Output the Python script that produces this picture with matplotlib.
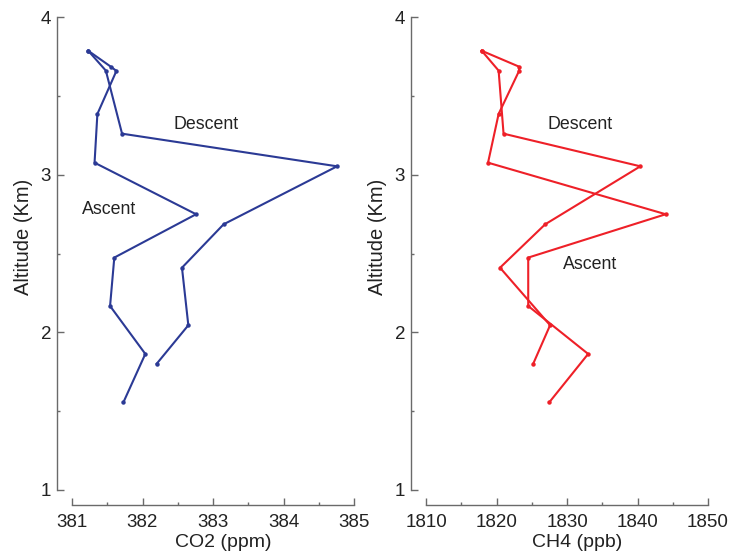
import matplotlib
matplotlib.use("Agg")
import matplotlib.pyplot as plt
from matplotlib.ticker import MultipleLocator

plt.rcParams["font.family"] = ["Liberation Sans", "DejaVu Sans"]

# flight profile, ascent listed bottom -> top, descent top -> bottom
asc_alt = [1.557, 1.863, 2.167, 2.474, 2.749, 3.076, 3.385, 3.658, 3.685, 3.786]
asc_co2 = [381.73, 382.04, 381.54, 381.60, 382.76, 381.32, 381.36, 381.63, 381.55, 381.23]
asc_ch4 = [1827.5, 1833.0, 1824.5, 1824.5, 1844.0, 1818.8, 1820.3, 1823.2, 1823.2, 1817.9]

desc_alt = [3.786, 3.660, 3.260, 3.053, 2.685, 2.410, 2.045, 1.800]
desc_co2 = [381.23, 381.48, 381.71, 384.76, 383.15, 382.56, 382.65, 382.20]
desc_ch4 = [1817.9, 1820.3, 1821.0, 1840.4, 1826.9, 1820.5, 1827.6, 1825.2]

co2_ticks = [381, 382, 383, 384, 385]
ch4_ticks = [1810, 1820, 1830, 1840, 1850]
alt_ticks = [1, 2, 3, 4]

BLUE = "#2b3a95"
RED = "#ee2028"
GREY = "#6a6a6a"
INK = "#222222"

fig = plt.figure(figsize=(7.39, 5.52), dpi=100)
ax1 = fig.add_axes([72 / 739, 62 / 552, 282 / 739, 473 / 552])
ax2 = fig.add_axes([426 / 739, 62 / 552, 282 / 739, 473 / 552])


def style(ax, xticks, xminor, xlabel):
    ax.set_xlim(xticks[0], xticks[-1])
    ax.set_ylim(alt_ticks[0], alt_ticks[-1])
    ax.set_xticks(xticks)
    ax.set_yticks(alt_ticks)
    ax.xaxis.set_minor_locator(MultipleLocator(xminor))
    ax.yaxis.set_minor_locator(MultipleLocator(0.5))
    for s in ("top", "right"):
        ax.spines[s].set_visible(False)
    for s in ("left", "bottom"):
        ax.spines[s].set_position(("outward", 11))
        ax.spines[s].set_color(GREY)
        ax.spines[s].set_linewidth(1.0)
    ax.tick_params(which="both", direction="in", color=GREY, width=1.0)
    ax.tick_params(which="major", length=5, labelsize=13.5, labelcolor=INK)
    ax.tick_params(which="minor", length=2)
    ax.tick_params(axis="x", pad=6)
    ax.tick_params(axis="y", pad=4)
    ax.set_xlabel(xlabel, fontsize=14, color=INK)
    ax.set_ylabel("Altitude (Km)", fontsize=14.5, color=INK)
    ax.xaxis.set_label_coords(0.537, -0.093)
    ax.yaxis.set_label_coords(-0.138, 0.535)
    ax.patch.set_visible(False)


for ax, asc, desc, col in ((ax1, asc_co2, desc_co2, BLUE), (ax2, asc_ch4, desc_ch4, RED)):
    ax.plot(asc, asc_alt, color=col, lw=1.5, marker="o", ms=2.2, clip_on=False)
    ax.plot(desc, desc_alt, color=col, lw=1.5, marker="o", ms=2.2, clip_on=False)

style(ax1, co2_ticks, 0.5, "CO2 (ppm)")
style(ax2, ch4_ticks, 5, "CH4 (ppb)")

lab = dict(fontsize=12.8, color=INK, ha="center", va="center")
ax1.text(382.9, 3.32, "Descent", **lab)
ax1.text(381.52, 2.776, "Ascent", **lab)
ax2.text(1831.8, 3.32, "Descent", **lab)
ax2.text(1833.3, 2.43, "Ascent", **lab)

fig.savefig("out.png", dpi=100)
